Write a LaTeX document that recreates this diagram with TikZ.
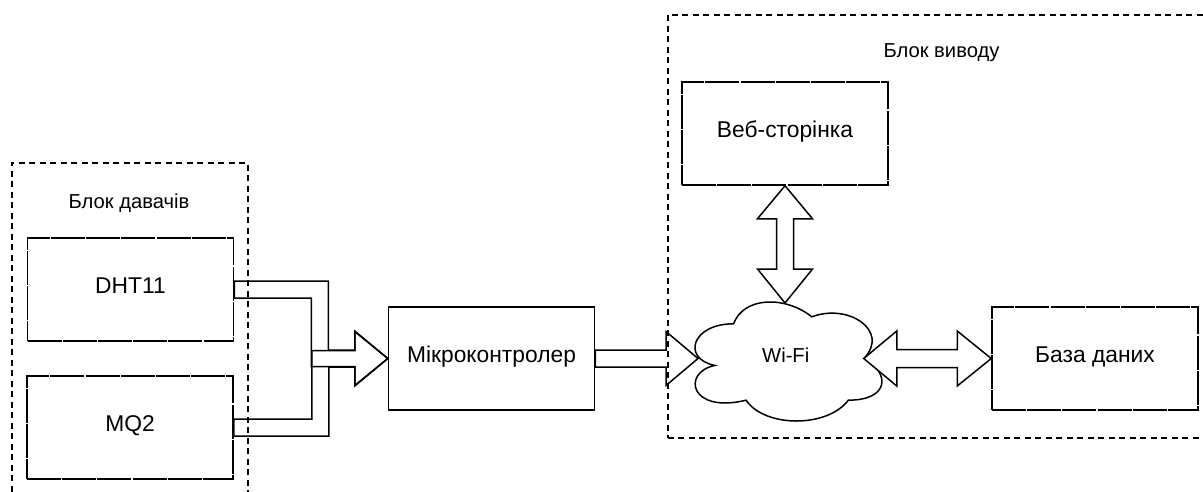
\documentclass[tikz,border=0pt]{standalone}
\usepackage{fontspec}
\setmainfont{Liberation Sans}
\usetikzlibrary{calc}
\tikzset{
  box/.style={draw, line width=1.5pt, minimum width=206pt, minimum height=103pt,
    inner sep=0pt, font=\fontsize{22.8}{26}\selectfont, text height=0.716em, text depth=0pt},
  brokenbox/.style={box, dash pattern=on 34pt off 1.2pt},
  container/.style={draw, line width=1.5pt, dash pattern=on 6pt off 4.5pt,
    inner sep=0pt, anchor=north west},
  caption/.style={font=\fontsize{20.2}{24}\selectfont, inner sep=0pt,
    text height=0.716em, text depth=0pt},
  blockarrow/.style={line width=1.5pt, line join=miter},
  cloudline/.style={draw, line width=1.5pt, fill=white},
}
\begin{document}
\begin{tikzpicture}[x=1pt, y=-1pt]
\useasboundingbox (0,0) rectangle (1203,491);
\clip (0,0) rectangle (1203,491);

% blocks
\node[brokenbox] (dht) at (130.5,289.5) {DHT11};
\node[brokenbox] (mq)  at (130,427.5) {MQ2};
\node[box]       (mcu) at (491.5,358.5) {Мікроконтролер};
\node[brokenbox] (web) at (785,133.5) {Веб-сторінка};
\node[brokenbox] (db)  at (1095,358.5) {База даних};

% Wi-Fi cloud
\node[caption] (wifi) at (785.75,358.5) {};
\begin{scope}[shift={($(wifi.center)+(-104.35,-69.45)$)}, x=208.7pt, y=-138.9pt]
  \draw[cloudline] (0.25,0.25) .. controls (0.05,0.25) and (0,0.5) .. (0.16,0.55)
    .. controls (0,0.6) and (0.04,0.9) .. (0.31,0.8)
    .. controls (0.4,1) and (0.7,1) .. (0.8,0.8)
    .. controls (1,0.8) and (1,0.6) .. (0.875,0.5)
    .. controls (1,0.3) and (0.8,0.1) .. (0.625,0.2)
    .. controls (0.5,0.05) and (0.3,0.05) .. (0.25,0.25) -- cycle;
\end{scope}
\node[caption] at (wifi.center) {Wi-Fi};

% sensors -> microcontroller (two merging hollow arrows)
\fill[white] ($(mq.east)+(0,8.5)$) -- ++(95,0) |- ($(mcu.west)+(-33,8.5)$) -- ++(0,19)
  -- (mcu.west) -- ++(-33,-27) -- ++(0,19) -| ($(mq.east)+(78,-8.5)$)
  -- ($(mq.east)+(0,-8.5)$) -- cycle;
\fill[white] ($(dht.east)+(0,-8.5)$) -- ++(94,0) |- ($(mcu.west)+(-33,-8.5)$) -- ++(0,-19)
  -- (mcu.west) -- ++(-33,27) -- ++(0,-19) -| ($(dht.east)+(77,8.5)$)
  -- ($(dht.east)+(0,8.5)$) -- cycle;
\draw[blockarrow] ($(mq.east)+(0,8.5)$) -- ++(95,0) |- ($(mcu.west)+(-33,8.5)$) -- ++(0,19)
  -- (mcu.west) -- ++(-33,-27) -- ++(0,19) -| ($(mq.east)+(78,-8.5)$)
  -- ($(mq.east)+(0,-8.5)$) -- cycle;
\draw[blockarrow] ($(dht.east)+(0,-8.5)$) -- ++(94,0) |- ($(mcu.west)+(-33,-8.5)$) -- ++(0,-19)
  -- (mcu.west) -- ++(-33,27) -- ++(0,-19) -| ($(dht.east)+(77,8.5)$)
  -- ($(dht.east)+(0,8.5)$) -- cycle;

% microcontroller -> Wi-Fi
\coordinate (wtip) at ($(wifi.center)+(-87.75,0)$);
\draw[blockarrow, fill=white] ($(mcu.east)+(0,-8.5)$) -- ($(wtip)+(-32,-8.5)$) -- ++(0,-18.5)
  -- (wtip) -- ++(-32,27) -- ++(0,-18.5) -- ($(mcu.east)+(0,8.5)$) -- cycle;

% web page <-> Wi-Fi
\coordinate (vtip) at ($(wifi.center)+(-0.75,-55.5)$);
\draw[blockarrow, fill=white] (web.south) -- ++(27.5,33) -- ++(-19,0) -- ($(vtip)+(8.5,-34)$)
  -- ++(19,0) -- (vtip) -- ++(-27.5,-34) -- ++(19,0) -- ($(web.south)+(-8.5,33)$)
  -- ++(-19,0) -- cycle;

% Wi-Fi <-> database
\coordinate (htip) at ($(wifi.center)+(78,0)$);
\draw[blockarrow, fill=white] (htip) -- ++(33,-27.5) -- ++(0,18.5) -- ($(db.west)+(-34,-9)$)
  -- ++(0,-18.5) -- (db.west) -- ++(-34,27.5) -- ++(0,-18.5) -- ($(htip)+(33,9)$)
  -- ++(0,18.5) -- cycle;

% grouping frames
\node[container, minimum width=236pt, minimum height=360pt] (sensors) at (11,162) {};
\node[container, minimum width=560pt, minimum height=423pt] (output) at (667,14) {};
\node[caption] (sensorslabel) at (129,204.5) {Блок давачів};
\node[caption] (outputlabel) at (941.5,53.7) {Блок виводу};
\end{tikzpicture}
\end{document}
